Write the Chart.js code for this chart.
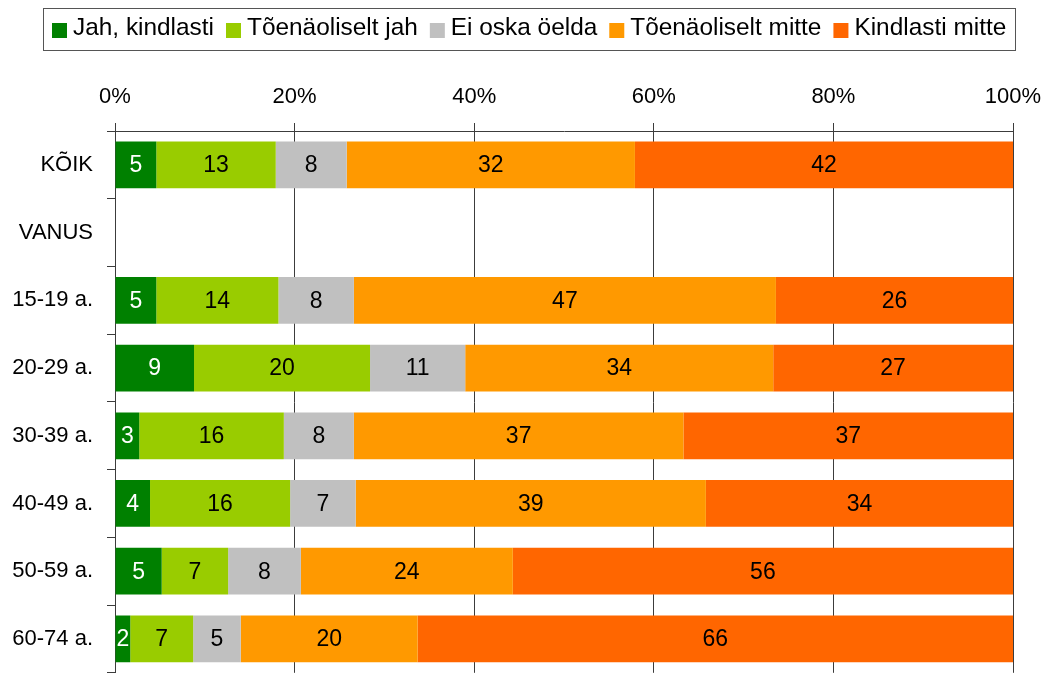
<!DOCTYPE html>
<html>
<head>
<meta charset="utf-8">
<script src="https://cdn.jsdelivr.net/npm/chart.js@4.4.1/dist/chart.umd.min.js"></script>
<style>
  html, body { margin: 0; padding: 0; background: #fff; overflow: hidden; }
  canvas { display: block; }
</style>
</head>
<body>
<canvas id="c" width="1044" height="700"></canvas>
<script>
const categories = ['KÕIK', 'VANUS', '15-19 a.', '20-29 a.', '30-39 a.', '40-49 a.', '50-59 a.', '60-74 a.'];
const seriesNames = ['Jah, kindlasti', 'Tõenäoliselt jah', 'Ei oska öelda', 'Tõenäoliselt mitte', 'Kindlasti mitte'];
const seriesColors = ['#008000', '#99CC00', '#C0C0C0', '#FF9900', '#FF6600'];
const jahKindlasti      = [4.6, null, 4.6, 8.8, 2.7, 3.9, 5.2, 1.7];
const toenaoliseltJah   = [13.3, null, 13.6, 19.6, 16.1, 15.6, 7.4, 7.0];
const eiOskaOelda       = [7.9, null, 8.4, 10.6, 7.8, 7.3, 8.1, 5.3];
const toenaoliseltMitte = [32.1, null, 47.0, 34.3, 36.7, 39.0, 23.6, 19.7];
const kindlastiMitte    = [42.1, null, 26.4, 26.7, 36.7, 34.2, 55.7, 66.3];
const tickValues = [0, 20, 40, 60, 80, 100];

const seriesData = [jahKindlasti, toenaoliseltJah, eiOskaOelda, toenaoliseltMitte, kindlastiMitte];
const FONT = '"Liberation Sans", Arial, sans-serif';

const labelPlugin = {
  id: 'barLabels',
  afterDatasetsDraw(chart) {
    const ctx = chart.ctx;
    ctx.save();
    ctx.font = '23px ' + FONT;
    ctx.textAlign = 'center';
    ctx.textBaseline = 'middle';
    chart.data.datasets.forEach((ds, i) => {
      const meta = chart.getDatasetMeta(i);
      meta.data.forEach((el, j) => {
        const v = ds.data[j];
        if (v === null || v === undefined) return;
        const p = el.getProps(['x', 'y', 'base'], true);
        ctx.fillStyle = i === 0 ? '#ffffff' : '#000000';
        ctx.fillText(String(Math.round(v)), (p.x + p.base) / 2, p.y + 1);
      });
    });
    ctx.restore();
  }
};

const legendPlugin = {
  id: 'boxLegend',
  afterDraw(chart) {
    const ctx = chart.ctx;
    ctx.save();
    ctx.font = '24.4px ' + FONT;
    const box = 15, gapText = 6, gapItem = 12, padX = 9;
    const widths = seriesNames.map(n => ctx.measureText(n).width);
    let total = 0;
    widths.forEach((w, i) => { total += box + gapText + w + (i < widths.length - 1 ? gapItem : 0); });
    const outerW = total + padX * 2;
    const left = Math.round((42 + 1016) / 2 - outerW / 2);
    ctx.strokeStyle = '#555555';
    ctx.lineWidth = 1;
    ctx.strokeRect(left + 0.5, 8.5, Math.round(outerW), 42);
    let x = left + padX;
    ctx.textBaseline = 'alphabetic';
    ctx.textAlign = 'left';
    seriesNames.forEach((n, i) => {
      ctx.fillStyle = seriesColors[i];
      ctx.fillRect(x, 23, box, box);
      ctx.fillStyle = '#000';
      ctx.fillText(n, x + box + gapText, 35);
      x += box + gapText + widths[i] + gapItem;
    });
    ctx.restore();
  }
};

new Chart(document.getElementById('c'), {
  type: 'bar',
  data: {
    labels: categories,
    datasets: seriesData.map((d, i) => ({
      label: seriesNames[i],
      data: d,
      backgroundColor: seriesColors[i],
      borderWidth: 0,
      categoryPercentage: 1,
      barPercentage: 0.69
    }))
  },
  options: {
    indexAxis: 'y',
    responsive: false,
    animation: false,
    devicePixelRatio: 1,
    layout: { padding: { left: 0, right: 31, top: 60, bottom: 17 } },
    plugins: { legend: { display: false }, tooltip: { enabled: false } },
    scales: {
      x: {
        position: 'top',
        stacked: true,
        min: 0, max: 100,
        afterFit(s) { s.height = 71; s.paddingRight = 0; s.paddingLeft = 0; },
        afterBuildTicks(s) { s.ticks = tickValues.map(v => ({ value: v })); },
        ticks: {
          callback: v => v + '%',
          font: { family: FONT, size: 22 },
          color: '#000',
          padding: 13,
          maxRotation: 0
        },
        grid: { color: '#3c3c3c', lineWidth: 1, tickLength: 8, drawTicks: true },
        border: { display: true, color: '#3c3c3c', width: 1 }
      },
      y: {
        stacked: true,
        afterFit(s) { s.width = 115; },
        ticks: {
          font: { family: FONT, size: 22 },
          color: '#000',
          padding: 14
        },
        grid: { offset: true, drawOnChartArea: false, drawTicks: true, tickLength: 8, color: '#3c3c3c' },
        border: { display: true, color: '#3c3c3c', width: 1 }
      }
    }
  },
  plugins: [labelPlugin, legendPlugin]
});
</script>
</body>
</html>
